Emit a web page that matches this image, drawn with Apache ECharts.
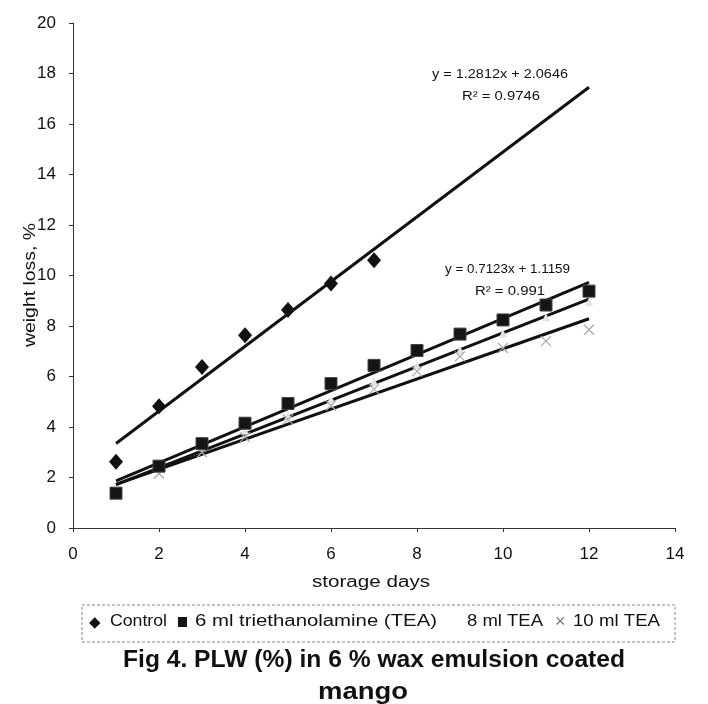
<!DOCTYPE html>
<html><head><meta charset="utf-8">
<script src="https://cdn.jsdelivr.net/npm/echarts@6/dist/echarts.min.js"></script>
<style>html,body{margin:0;padding:0;background:#fff}#c{width:708px;height:704px}</style>
</head><body><div id="c"></div>
<script>
const days = [1,2,3,4,5,6,7,8,9,10,11,12];
const control = [2.62,4.82,6.38,7.63,8.63,9.68,10.6];
const tea6 = [1.38,2.45,3.34,4.15,4.93,5.72,6.44,7.03,7.68,8.24,8.83,9.38];
const tea8 = [1.35,2.45,3.2,3.85,4.45,5.1,5.8,6.45,7.05,7.7,8.35,8.95];
const tea10 = [1.3,2.16,3.0,3.6,4.3,4.85,5.5,6.2,6.8,7.13,7.4,7.85];
const trendRange = [1,12];
const seriesNames = ['Control','6 ml triethanolamine (TEA)','8 ml TEA','10 ml TEA'];
const eqControl = ['y = 1.2812x + 2.0646','R² = 0.9746'];
const eqTea6 = ['y = 0.7123x + 1.1159','R² = 0.991'];
const titleLines = ['Fig 4. PLW (%) in 6 % wax emulsion coated','mango'];

const FONT = 'Liberation Sans, Arial, sans-serif';
function fit(ys){
  const xs = days.slice(0, ys.length);
  const n = ys.length;
  const mx = xs.reduce((a,b)=>a+b,0)/n, my = ys.reduce((a,b)=>a+b,0)/n;
  let sxy=0,sxx=0;
  for(let i=0;i<n;i++){sxy+=(xs[i]-mx)*(ys[i]-my);sxx+=(xs[i]-mx)*(xs[i]-mx);}
  const b = sxy/sxx, a = my-b*mx;
  return trendRange.map(x=>[x,a+b*x]);
}
const pairs = ys => ys.map((v,i)=>[days[i],v]);
const crossPath = 'path://M0,0L10,10M10,0L0,10';
const ctx = document.createElement('canvas').getContext('2d');
function stext(text, x, y, size, width, opts){
  opts = opts || {};
  const weight = opts.bold ? 'bold ' : '';
  ctx.font = weight + size + 'px ' + FONT;
  const w = ctx.measureText(text).width;
  return {type:'text', x:x, y:y, rotation:opts.rotation||0, scaleX: width ? width/w : 1,
    style:{text:text, fontSize:size, fontWeight:opts.bold?'bold':'normal', fontFamily:FONT, fill:'#111',
      textAlign:opts.align||'left', textVerticalAlign:'middle'}};
}
const chart = echarts.init(document.getElementById('c'));
const trend = (name,ys)=>({type:'line',name:name+' trend',data:fit(ys),showSymbol:false,symbol:'none',
  lineStyle:{color:'#111',width:3},silent:true,z:2});
chart.setOption({
  animation:false,
  textStyle:{fontFamily:FONT,color:'#111'},
  grid:{left:73,top:23,width:602,height:505,containLabel:false},
  xAxis:{type:'value',min:0,max:14,interval:2,
    axisLine:{show:true,lineStyle:{color:'#333',width:1}},
    axisTick:{show:true,inside:false,length:4,lineStyle:{color:'#333'}},
    axisLabel:{fontSize:17,color:'#111',margin:18},
    splitLine:{show:false}},
  yAxis:{type:'value',min:0,max:20,interval:2,
    axisLine:{show:true,lineStyle:{color:'#333',width:1}},
    axisTick:{show:true,inside:false,length:4,lineStyle:{color:'#333'}},
    axisLabel:{fontSize:17,color:'#111',margin:17},
    splitLine:{show:false}},
  legend:{show:false},
  series:[
    trend('Control',control),trend('6 ml',tea6),trend('8 ml',tea8),trend('10 ml',tea10),
    {type:'scatter',name:seriesNames[0],data:pairs(control),symbol:'diamond',symbolSize:[14,16],itemStyle:{color:'#111',opacity:1},z:5},
    {type:'scatter',name:seriesNames[1],data:pairs(tea6),symbol:'rect',symbolSize:12,itemStyle:{color:'#151515',borderColor:'#444',borderWidth:1,opacity:1},z:5},
    {type:'scatter',name:seriesNames[2],data:pairs(tea8),symbol:'triangle',symbolSize:8,itemStyle:{color:'#e2e2e2',opacity:1},z:4},
    {type:'scatter',name:seriesNames[3],data:pairs(tea10),symbol:crossPath,symbolSize:10,itemStyle:{color:'none',borderColor:'#aaa',borderWidth:1.2,opacity:1},z:4}
  ],
  graphic:[
    stext('weight loss, %', 30, 285, 17, 124, {rotation:Math.PI/2, align:'center'}),
    stext('storage days', 371, 583, 16, 118, {align:'center'}),
    stext(eqControl[0], 432, 75, 12, 136),
    stext(eqControl[1], 462, 97, 12, 78),
    stext(eqTea6[0], 445, 270, 12, 125),
    stext(eqTea6[1], 475, 292, 12, 70),
    {type:'rect',shape:{x:82,y:605,width:593,height:37},style:{fill:'none',stroke:'#888',lineWidth:1,lineDash:[3,2]}},
    stext('◆', 89, 623, 15, 0),
    stext(seriesNames[0], 110, 622, 16, 57),
    {type:'rect',shape:{x:178,y:617,width:9,height:10},style:{fill:'#151515'}},
    stext(seriesNames[1], 195, 622, 16, 242),
    stext(seriesNames[2], 467, 622, 16, 76),
    {type:'text', x:555, y:622, style:{text:'×', fontSize:18, fontFamily:FONT, fill:'#777', textVerticalAlign:'middle'}},
    stext(seriesNames[3], 573, 622, 16, 87),
    stext(titleLines[0], 374, 661, 23, 502, {bold:true, align:'center'}),
    stext(titleLines[1], 363, 693, 23, 90, {bold:true, align:'center'})
  ]
});
</script></body></html>
